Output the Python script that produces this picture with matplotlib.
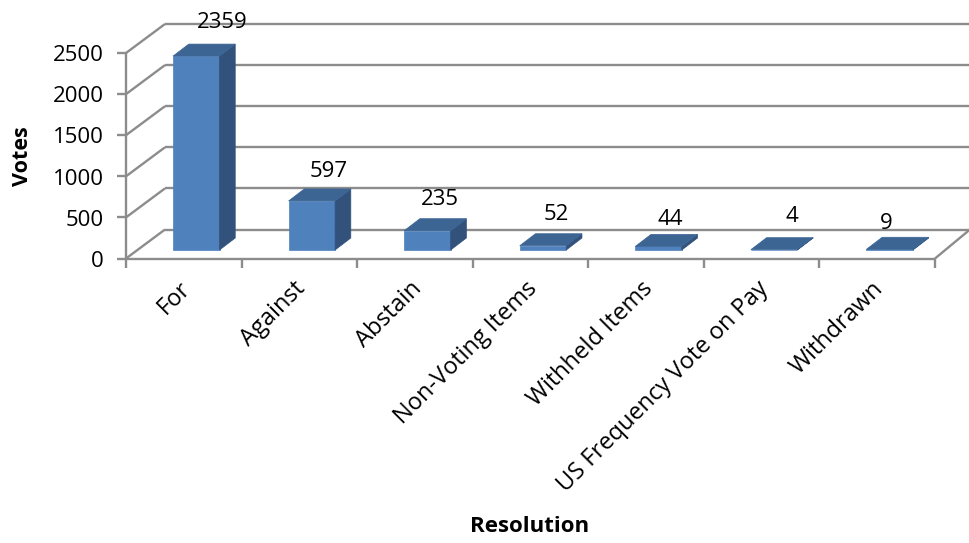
import matplotlib
matplotlib.use('Agg')
import matplotlib.pyplot as plt

categories = ['For', 'Against', 'Abstain', 'Non-Voting Items', 'Withheld Items',
              'US Frequency Vote on Pay', 'Withdrawn']
votes = [2359, 597, 235, 52, 44, 4, 9]
y_ticks = [0, 500, 1000, 1500, 2000, 2500]

# label offsets from top of bar, pixels
label_dx = [26, 17, 12, 13, 12, 18, -3]
label_dy = [34, 29, 31, 31, 27, 33, 26]

W, H = 969, 543
plt.rcParams['font.family'] = ['Open Sans', 'DejaVu Sans']

fig = plt.figure(figsize=(W / 100, H / 100), dpi=100)
ax = fig.add_axes([126 / W, 1 - 258.5 / H, (935 - 126) / W, 205.5 / H])
ax.set_xlim(0, 7)
ax.set_ylim(0, 2500)
ax.axis('off')

# pixel sizes in data units
px_x = 7 / (935 - 126)
px_y = 2500 / 205.5

grey = '#8c8c8c'
wall_dx, wall_dy = 39 * px_x, 29 * px_y
right_dx = 35 * px_x


def line(xs, ys, lw=1.7, z=1):
    ax.plot(xs, ys, color=grey, lw=lw, clip_on=False, zorder=z, solid_capstyle='butt')


# walls and gridlines
for v in y_ticks:
    line([0, wall_dx], [v, v + wall_dy])
    line([wall_dx, 7 + right_dx], [v + wall_dy, v + wall_dy])
    line([-9 * px_x, 0], [v, v])
line([0, 0], [0, 2500])
line([0, 7], [0, 0], z=2)
line([7, 7 + right_dx], [0, wall_dy])
for i in range(8):
    line([i, i], [0, -9 * px_y])

# bars
bar_w = 46.5 * px_x
off_x, off_y = 12.5 * px_x, 8.5 * px_y
d_x, d_y = 15.7 * px_x, 12 * px_y
for i, v in enumerate(votes):
    left = i + 0.5 + off_x - bar_w / 2
    right = left + bar_w
    bottom = off_y
    top = off_y + v
    ax.fill([left, right, right, left], [bottom, bottom, top, top],
            color='#4f81bd', lw=0.5, clip_on=False, zorder=3)
    ax.fill([right, right + d_x, right + d_x, right],
            [bottom, bottom + d_y, top + d_y, top],
            color='#32527c', lw=0.5, clip_on=False, zorder=3)
    ax.fill([left, right, right + d_x, left + d_x],
            [top, top, top + d_y, top + d_y],
            color='#3c6594', lw=0.5, clip_on=False, zorder=4)
    ax.annotate(str(v), (i + 0.5 + off_x, top),
                xytext=(label_dx[i] * 0.72, label_dy[i] * 0.72),
                textcoords='offset points', ha='center', va='center',
                fontsize=16, color='black', zorder=5, annotation_clip=False)

# y tick labels
for v in y_ticks:
    ax.annotate(str(v), (0, v), xytext=(-16, -2), textcoords='offset points',
                ha='right', va='center', fontsize=16, color='black',
                annotation_clip=False)

# category labels, right end anchored under the tick
for i, name in enumerate(categories):
    ax.annotate(name, (i + 0.5, 0), xytext=(-4, -13),
                textcoords='offset points', ha='right', va='top',
                rotation=45, rotation_mode='anchor', fontsize=17,
                color='black', annotation_clip=False)

fig.text(22 / W, 1 - 156 / H, 'Votes', rotation=90, ha='center', va='center',
         fontsize=15.5, fontweight='bold')
fig.text(530 / W, 1 - 527 / H, 'Resolution', ha='center', va='center',
         fontsize=16, fontweight='bold')

fig.savefig('out.png', dpi=100)
